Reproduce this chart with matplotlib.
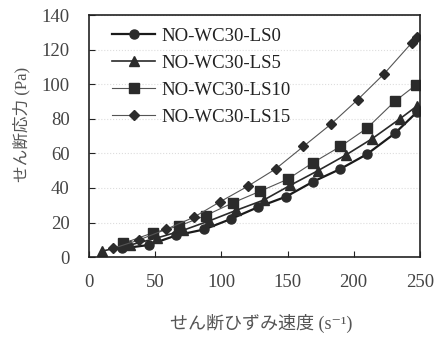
import matplotlib
matplotlib.use("Agg")
import matplotlib.pyplot as plt

plt.rcParams['font.family'] = ['Liberation Serif', 'Noto Sans CJK JP', 'DejaVu Sans']

# data
labels = ["NO-WC30-LS0", "NO-WC30-LS5", "NO-WC30-LS10", "NO-WC30-LS15"]

x_ls0 = [25, 45, 66, 87, 107, 128, 149, 169, 190, 210, 231, 248]
y_ls0 = [5, 7, 12.6, 16, 22, 29, 35, 43.5, 51, 59.5, 71.5, 84]

x_ls5 = [10, 31, 51, 71, 91, 111, 132, 152, 173, 194, 214, 235, 248]
y_ls5 = [3.5, 7, 11, 15.5, 21, 27, 33, 41.5, 50, 59, 68.5, 80, 87.5]

x_ls10 = [26, 48, 68, 88, 109, 129, 150, 169, 190, 210, 231, 247]
y_ls10 = [8, 14, 18, 24, 31.5, 38, 45, 54.5, 64, 74.5, 90, 99.5]

x_ls15 = [18, 38, 58, 79, 99, 120, 141, 162, 183, 203, 223, 244, 248]
y_ls15 = [5, 10, 16, 23, 32, 41, 51, 64, 77, 91, 106, 124, 127]

xs = [x_ls0, x_ls5, x_ls10, x_ls15]
ys = [y_ls0, y_ls5, y_ls10, y_ls15]
markers = ["o", "^", "s", "D"]
msizes = [6.5, 7, 6.5, 5.5]
lcolors = ["#1a1a1a", "#2a2a2a", "#555555", "#555555"]
lwidths = [1.6, 1.2, 0.8, 0.8]

fig = plt.figure(figsize=(4.41, 3.41), dpi=100)
ax = fig.add_axes([0.202, 0.246, 0.750, 0.710])

for x, y, lab, m, ms, c, lw in zip(xs, ys, labels, markers, msizes, lcolors, lwidths):
    ax.plot(x, y, color=c, linewidth=lw, marker=m, markersize=ms,
            markerfacecolor="#2b2b2b", markeredgecolor="#2b2b2b", label=lab)

ax.set_xlim(0, 250)
ax.set_ylim(0, 140)
ax.set_xticks([0, 50, 100, 150, 200, 250])
ax.set_yticks([0, 20, 40, 60, 80, 100, 120, 140])
ax.tick_params(direction="in", labelsize=13.5, labelcolor="#444444", color="#222222",
               length=4)
ax.tick_params(axis="x", pad=12)
ax.tick_params(axis="y", pad=14)
ax.yaxis.grid(True, color="#dddddd", linestyle=":", linewidth=0.8)
for s in ax.spines.values():
    s.set_color("#222222")
    s.set_linewidth(1.2)

ax.set_xlabel("せん断ひずみ速度 (s⁻¹)", fontsize=13, color="#555555")
ax.xaxis.set_label_coords(0.52, -0.235)
ax.set_ylabel("せん断応力 (Pa)", fontsize=12, color="#555555")
ax.yaxis.set_label_coords(-0.178, 0.55)

leg = ax.legend(loc="upper left", frameon=False, fontsize=13.5, handlelength=2.3,
                handletextpad=0.35, labelspacing=0.52, borderaxespad=0, borderpad=0,
                bbox_to_anchor=(0.07, 0.947))
for t in leg.get_texts():
    t.set_color("#222222")

fig.savefig("out.png", dpi=100)
